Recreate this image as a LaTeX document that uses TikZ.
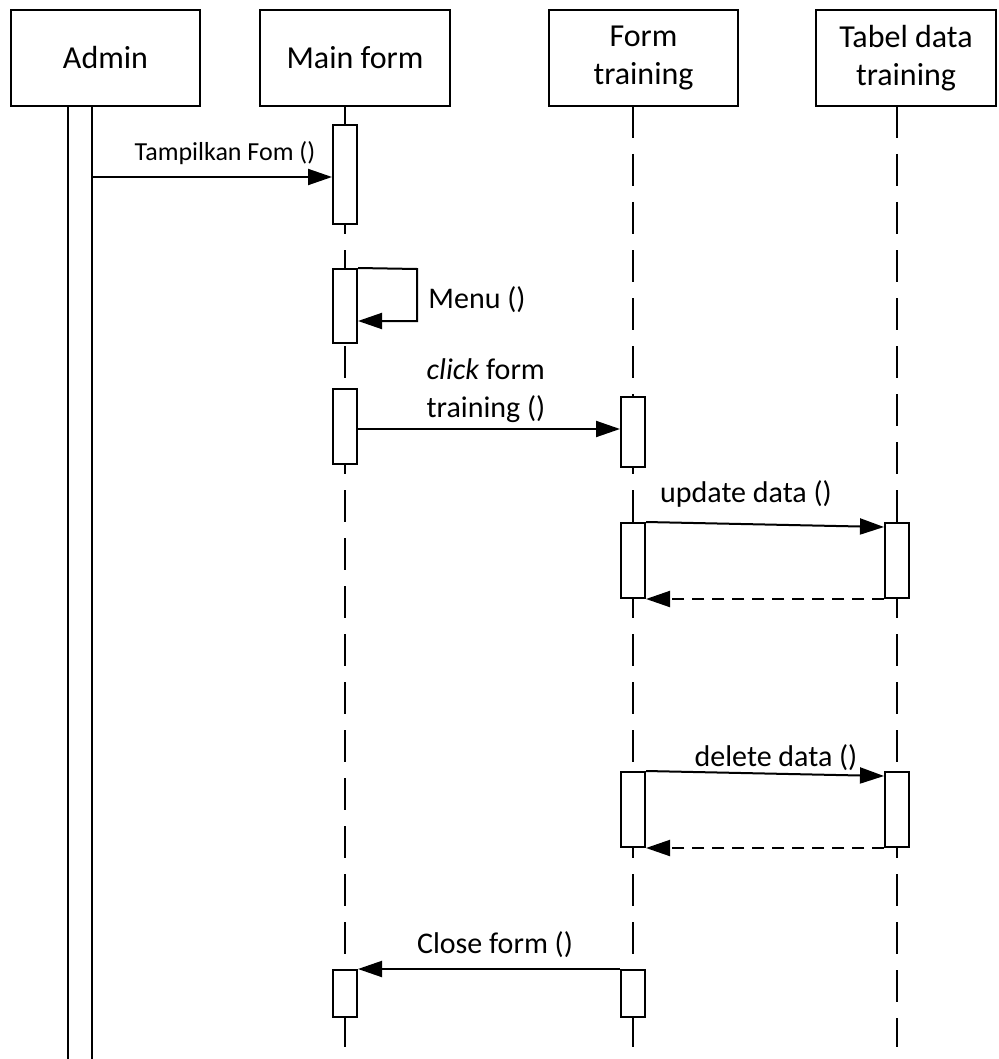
\documentclass[tikz,border=0pt]{standalone}
\usepackage{fontspec}
\setmainfont{Carlito}
\usetikzlibrary{arrows.meta}

\begin{document}
\begin{tikzpicture}[%
      x=0.5pt, y=-0.5pt,
      line width=1pt,
      head/.style={draw, inner sep=0pt, minimum height=48pt, align=center,
        font=\fontsize{16}{19}\selectfont},
      bar/.style={draw, fill=white, inner sep=0pt, minimum width=12pt},
      lifeline/.style={dash pattern=on 16pt off 8pt},
      msg/.style={-{Triangle[length=12pt,width=8pt]}},
      ret/.style={dash pattern=on 6pt off 4pt, -{Triangle[length=12pt,width=8pt]}},
      lbl/.style={inner sep=0pt, font=\fontsize{15}{19}\selectfont},
      ]
      \useasboundingbox (0,0) rectangle (998,1059);

      % heads
      \node[head, minimum width=94.5pt] (admin) at (105.5,58) {Admin};
      \node[head, minimum width=95pt] (mainform) at (355,58) {Main form};
      \node[head, minimum width=94.5pt] (formtr) at (643.5,58) {Form\\training};
      \node[head, minimum width=90pt] (tabel) at (906,58) {Tabel data\\training};

      % lifelines
      \draw (68,106) -- (68,1059);
      \draw (92,106) -- (92,1059);
      \draw [lifeline] (345,106) -- (345,1047);
      \draw [lifeline] (633,106) -- (633,1047);
      \draw [lifeline] (897,106) -- (897,1047);

      % activation bars
      \node[bar, minimum height=49.5pt] (mf1) at (345,174.5) {};
      \node[bar, minimum height=37pt] (mf2) at (345,306) {};
      \node[bar, minimum height=37.5pt] (mf3) at (345,426.5) {};
      \node[bar, minimum height=23.5pt] (mf4) at (345,993.5) {};
      \node[bar, minimum height=35pt] (ft1) at (633,432) {};
      \node[bar, minimum height=37.5pt] (ft2) at (633,560.5) {};
      \node[bar, minimum height=37.5pt] (ft3) at (633,809.5) {};
      \node[bar, minimum height=23.5pt] (ft4) at (633,993.5) {};
      \node[bar, minimum height=37.5pt] (tb1) at (897,560.5) {};
      \node[bar, minimum height=37.5pt] (tb2) at (897,809.5) {};

      % messages
      \coordinate (adm) at (92,177);
      \draw [msg] (adm) -- (mf1.west |- adm);
      \draw [msg] (mf2.north east) -- (417,269) -- (417,321) -- (mf2.east |- 0,321);
      \draw [msg] (mf3.east |- 0,429) -- (ft1.west |- 0,429);
      \draw [msg] (ft2.north east) -- (tb1.west |- 0,527);
      \draw [ret] (tb1.south west) -- (ft2.south east);
      \draw [msg] (ft3.north east) -- (tb2.west |- 0,776);
      \draw [ret] (tb2.south west) -- (ft3.south east);
      \draw [msg] (ft4.north west) -- (mf4.north east);

      \node[lbl, font=\fontsize{13}{16}\selectfont] (l1) at (225,153) {Tampilkan Fom ()};
      \node[lbl] (l2) at (477,300) {Menu ()};
      \node[lbl, align=left] (l3) at (486,391) {\textit{click} form\\training ()};
      \node[lbl] (l4) at (746,494) {update data ()};
      \node[lbl] (l5) at (776,758) {delete data ()};
      \node[lbl] (l6) at (495,945) {Close form ()};
\end{tikzpicture}
\end{document}
